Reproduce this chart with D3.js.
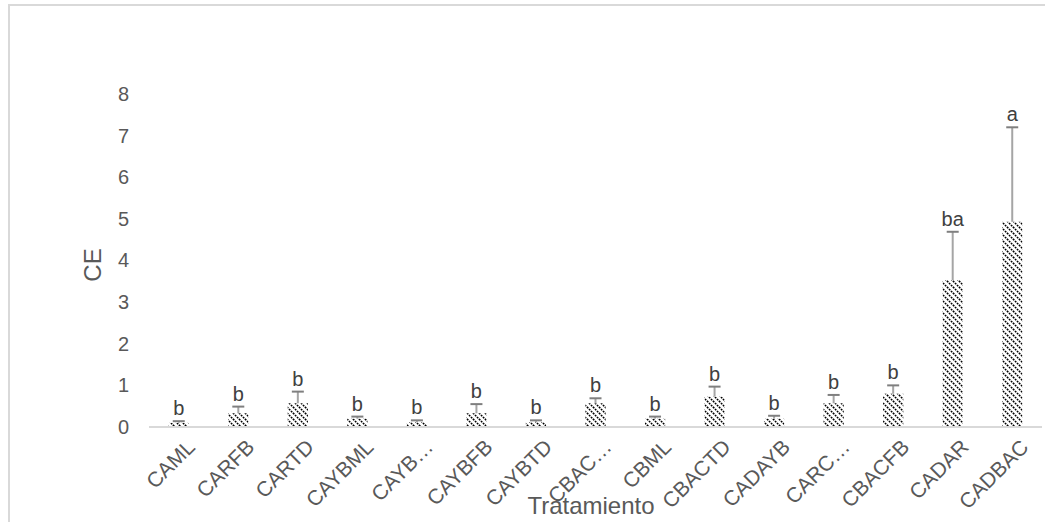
<!DOCTYPE html>
<html>
<head>
<script src="https://cdn.jsdelivr.net/npm/d3@7"></script>
<style>
  body { margin: 0; background: #fff; font-family: 'Liberation Sans', Arial, sans-serif; }
  svg { display: block; }
</style>
</head>
<body>
<div id="chart"></div>
<script>
// data
var categories = ["CAML", "CARFB", "CARTD", "CAYBML", "CAYB\u2026", "CAYBFB", "CAYBTD", "CBAC\u2026",
                  "CBML", "CBACTD", "CADAYB", "CARC\u2026", "CBACFB", "CADAR", "CADBAC"];
var means   = [0.10, 0.33, 0.57, 0.20, 0.12, 0.33, 0.12, 0.57, 0.20, 0.73, 0.20, 0.57, 0.80, 3.53, 4.93];
var errTops = [0.14, 0.49, 0.85, 0.25, 0.16, 0.55, 0.16, 0.69, 0.25, 0.97, 0.27, 0.77, 1.00, 4.69, 7.20];
var letters = ["b", "b", "b", "b", "b", "b", "b", "b", "b", "b", "b", "b", "b", "ba", "a"];
var yTicks  = [0, 1, 2, 3, 4, 5, 6, 7, 8];

var W = 1045, H = 522;
var margin = {top: 94, right: 3, bottom: 95, left: 149};
var font = "'Liberation Sans', Arial, sans-serif";

var svg = d3.select("#chart").append("svg")
    .attr("width", W)
    .attr("height", H)
    .style("font-family", font);

// chart frame (left + top edges visible)
svg.append("rect")
    .attr("x", 9).attr("y", 5)
    .attr("width", W + 20).attr("height", H + 20)
    .attr("fill", "none")
    .attr("stroke", "#d9d9d9")
    .attr("stroke-width", 2);

// hatch pattern
var pat = svg.append("defs").append("pattern")
    .attr("id", "hatch")
    .attr("patternUnits", "userSpaceOnUse")
    .attr("width", 6).attr("height", 6);
pat.append("rect").attr("width", 6).attr("height", 6).attr("fill", "#fff");
pat.append("path")
    .attr("d", "M-1,-1 L7,7 M-1,5 L1,7 M5,-1 L7,1")
    .attr("stroke", "#000")
    .attr("stroke-width", 1.6)
    .attr("stroke-dasharray", "1.8,1");

var x = d3.scaleBand().domain(categories)
    .range([margin.left, W - margin.right])
    .paddingInner(0.66).paddingOuter(0.33);
var y = d3.scaleLinear().domain([0, 8]).range([427, margin.top]);

// y tick labels (no axis line)
var yAxis = svg.append("g")
    .attr("transform", "translate(" + (margin.left - 20) + ",0)")
    .call(d3.axisLeft(y).tickValues(yTicks).tickSize(0).tickPadding(0));
yAxis.select(".domain").remove();
yAxis.selectAll("text")
    .attr("fill", "#595959")
    .style("font-size", "20px")
    .style("font-family", font);

// bars
svg.selectAll("rect.bar")
    .data(categories)
    .enter().append("rect")
    .attr("class", "bar")
    .attr("x", function(d) { return x(d); })
    .attr("width", x.bandwidth())
    .attr("y", function(d, i) { return y(means[i]); })
    .attr("height", function(d, i) { return y(0) - y(means[i]); })
    .attr("fill", "url(#hatch)");

// x axis line
svg.append("line")
    .attr("x1", margin.left).attr("x2", W - margin.right)
    .attr("y1", y(0)).attr("y2", y(0))
    .attr("stroke", "#d9d9d9")
    .attr("stroke-width", 2);

// error bars (upper only)
var err = svg.selectAll("g.err")
    .data(categories)
    .enter().append("g")
    .attr("class", "err");
err.append("line")
    .attr("x1", function(d) { return x(d) + x.bandwidth() / 2; })
    .attr("x2", function(d) { return x(d) + x.bandwidth() / 2; })
    .attr("y1", function(d, i) { return y(means[i]); })
    .attr("y2", function(d, i) { return y(errTops[i]); })
    .attr("stroke", "#a5a5a5")
    .attr("stroke-width", 2);
err.append("line")
    .attr("x1", function(d) { return x(d) + x.bandwidth() / 2 - 6; })
    .attr("x2", function(d) { return x(d) + x.bandwidth() / 2 + 6; })
    .attr("y1", function(d, i) { return y(errTops[i]); })
    .attr("y2", function(d, i) { return y(errTops[i]); })
    .attr("stroke", "#7f7f7f")
    .attr("stroke-width", 2);

// significance letters
svg.selectAll("text.letter")
    .data(categories)
    .enter().append("text")
    .attr("class", "letter")
    .attr("x", function(d) { return x(d) + x.bandwidth() / 2; })
    .attr("y", function(d, i) { return y(errTops[i]) - 6; })
    .attr("text-anchor", "middle")
    .attr("fill", "#404040")
    .style("font-size", "20px")
    .text(function(d, i) { return letters[i]; });

// x category labels
svg.selectAll("text.cat")
    .data(categories)
    .enter().append("text")
    .attr("class", "cat")
    .attr("transform", function(d) {
        return "translate(" + (x(d) + x.bandwidth() / 2 + 7) + "," + (y(0) + 11) + ") rotate(-45)";
    })
    .attr("text-anchor", "end")
    .attr("dy", "0.7em")
    .attr("fill", "#595959")
    .style("font-size", "21px")
    .text(function(d) { return d; });

// axis titles
svg.append("text")
    .attr("x", 591).attr("y", 514)
    .attr("text-anchor", "middle")
    .attr("fill", "#595959")
    .style("font-size", "24px")
    .text("Tratamiento");

svg.append("text")
    .attr("transform", "translate(101,265) rotate(-90)")
    .attr("text-anchor", "middle")
    .attr("fill", "#595959")
    .style("font-size", "24px")
    .text("CE");
</script>
</body>
</html>
